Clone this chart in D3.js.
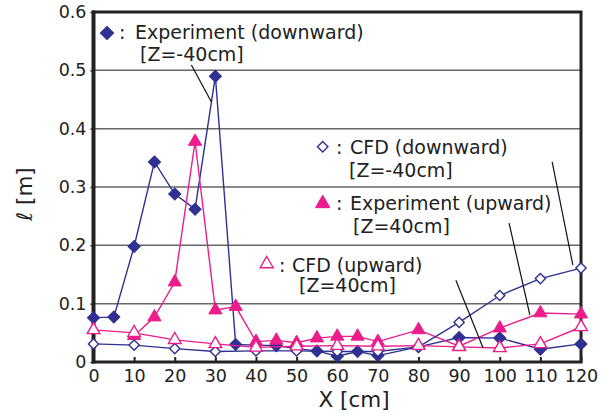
<!DOCTYPE html>
<html>
<head>
<meta charset="utf-8">
<script src="https://cdn.jsdelivr.net/npm/d3@7"></script>
<style>
  body { margin: 0; background: #fff; }
  svg text { font-family: "DejaVu Sans", Verdana, sans-serif; fill: #222; }
</style>
</head>
<body>
<div id="chart"></div>
<script>
// experiment positions (cm)
const xExpDown = [0, 5, 10, 15, 20, 25, 30, 35, 40, 45, 50, 55, 60, 65, 70, 80, 90, 100, 110, 120];
const expDown = [0.076, 0.077, 0.198, 0.343, 0.288, 0.262, 0.490, 0.030, 0.029, 0.028, 0.023, 0.019, 0.010, 0.018, 0.011, 0.026, 0.042, 0.041, 0.022, 0.031];

const xExpUp = [10, 15, 20, 25, 30, 35, 40, 45, 50, 55, 60, 65, 70, 80, 90, 100, 110, 120];
const expUp = [0.045, 0.077, 0.137, 0.378, 0.089, 0.095, 0.035, 0.037, 0.033, 0.041, 0.044, 0.044, 0.035, 0.055, 0.027, 0.058, 0.084, 0.082];

// CFD positions (cm)
const xCfd = [0, 10, 20, 30, 40, 50, 60, 70, 80, 90, 100, 110, 120];
const cfdDown = [0.031, 0.029, 0.023, 0.018, 0.019, 0.019, 0.018, 0.018, 0.026, 0.068, 0.114, 0.143, 0.161];
const cfdUp = [0.055, 0.050, 0.038, 0.031, 0.025, 0.027, 0.028, 0.027, 0.028, 0.026, 0.024, 0.031, 0.060];

const xTicks = [0, 10, 20, 30, 40, 50, 60, 70, 80, 90, 100, 110, 120];
const yTicks = [0, 0.1, 0.2, 0.3, 0.4, 0.5, 0.6];

const navy = "#2e3192";
const pink = "#ec1c8c";

const W = 602, H = 414;
const x = d3.scaleLinear().domain([0, 120]).range([93.5, 581]);
const y = d3.scaleLinear().domain([0, 0.6]).range([362, 12]);

const svg = d3.select("#chart").append("svg").attr("width", W).attr("height", H);

// grid
svg.append("g")
  .selectAll("line")
  .data(yTicks.slice(1, -1))
  .join("line")
  .attr("x1", x(0)).attr("x2", x(120))
  .attr("y1", d => y(d)).attr("y2", d => y(d))
  .attr("stroke", "#666").attr("stroke-width", 1.5);

// axes
const xAxis = svg.append("g")
  .attr("transform", `translate(0,${y(0)})`)
  .call(d3.axisBottom(x).tickValues(xTicks).tickSize(-5).tickPadding(8).tickFormat(d3.format("d")));
xAxis.select(".domain").remove();
xAxis.selectAll("line").attr("stroke", "#222").attr("stroke-width", 2);
xAxis.selectAll("text").attr("font-size", "17.5px").style("font-family", "DejaVu Sans");

const yAxis = svg.append("g")
  .attr("transform", `translate(${x(0)},0)`)
  .call(d3.axisLeft(y).tickValues(yTicks).tickSize(3).tickPadding(4)
    .tickFormat(d => d === 0 ? "0" : d3.format(".1f")(d)));
yAxis.select(".domain").remove();
yAxis.selectAll("line").attr("stroke", "#222").attr("stroke-width", 1.5);
yAxis.selectAll("text").attr("font-size", "17.5px").style("font-family", "DejaVu Sans");

// frame
svg.append("rect")
  .attr("x", x(0)).attr("y", y(0.6))
  .attr("width", x(120) - x(0)).attr("height", y(0) - y(0.6))
  .attr("fill", "none").attr("stroke", "#222").attr("stroke-width", 3);
svg.append("line")
  .attr("x1", x(0)).attr("x2", x(0)).attr("y1", y(0.6) - 1.5).attr("y2", y(0) + 1.5)
  .attr("stroke", "#222").attr("stroke-width", 4);

// axis titles
svg.append("text")
  .attr("x", 354).attr("y", 407)
  .attr("text-anchor", "middle").attr("font-size", "21.5px")
  .text("X [cm]");
const yl = svg.append("text")
  .attr("transform", "translate(32,194) rotate(-90)")
  .attr("text-anchor", "middle").attr("font-size", "21.5px");
yl.append("tspan").attr("font-style", "italic").text("ℓ");
yl.append("tspan").text(" [m]");

// diamonds are squares turned by 45 degrees
const series = [
  { xs: xExpDown, ys: expDown, color: navy, shape: d3.symbolSquare, rot: 45, size: 74, fill: true },
  { xs: xExpUp, ys: expUp, color: pink, shape: d3.symbolTriangle, rot: 0, size: 75, fill: true },
  { xs: xCfd, ys: cfdDown, color: navy, shape: d3.symbolSquare, rot: 45, size: 52, fill: false },
  { xs: xCfd, ys: cfdUp, color: pink, shape: d3.symbolTriangle, rot: 0, size: 70, fill: false }
];

const line = d3.line().x(d => x(d[0])).y(d => y(d[1]));

series.forEach(s => {
  const pts = s.xs.map((v, i) => [v, s.ys[i]]);
  const g = svg.append("g");
  g.append("path")
    .attr("d", line(pts))
    .attr("fill", "none")
    .attr("stroke", s.color)
    .attr("stroke-width", 1.4);
  g.selectAll("path.m")
    .data(pts)
    .join("path")
    .attr("class", "m")
    .attr("transform", d => `translate(${x(d[0])},${y(d[1])}) rotate(${s.rot})`)
    .attr("d", d3.symbol().type(s.shape).size(s.size))
    .attr("fill", s.fill ? s.color : "#fff")
    .attr("stroke", s.color)
    .attr("stroke-width", s.fill ? 1 : 1.4);
});

// legend labels and leader lines
const notes = [
  { s: 0, mx: 107, my: 33, cx: 119, tx: 135, ty: 38.5, zx: 140, zy: 61, text: "Experiment (downward)", z: "[Z=-40cm]",
    lx1: 24.1, ly1: 0.509, lx2: 29.0, ly2: 0.446 },
  { s: 2, mx: 322.7, my: 146.7, cx: 336, tx: 350, ty: 154, zx: 349, zy: 177, text: "CFD (downward)", z: "[Z=-40cm]",
    lx1: 112.9, ly1: 0.343, lx2: 118.0, ly2: 0.166 },
  { s: 1, mx: 322.7, my: 203.5, cx: 336, tx: 350, ty: 210, zx: 353, zy: 233, text: "Experiment (upward)", z: "[Z=40cm]",
    lx1: 102.3, ly1: 0.238, lx2: 107.4, ly2: 0.081 },
  { s: 3, mx: 266.7, my: 264, cx: 279, tx: 292, ty: 271.5, zx: 299, zy: 292, text: "CFD (upward)", z: "[Z=40cm]",
    lx1: 89.2, ly1: 0.140, lx2: 95.9, ly2: 0.024 }
];

notes.forEach(n => {
  const s = series[n.s];
  svg.append("path")
    .attr("transform", `translate(${n.mx},${n.my}) rotate(${s.rot})`)
    .attr("d", d3.symbol().type(s.shape).size(s.fill ? s.size * 1.2 : s.size * 1.05))
    .attr("fill", s.fill ? s.color : "#fff")
    .attr("stroke", s.color)
    .attr("stroke-width", s.fill ? 1 : 1.4);
  svg.append("text").attr("x", n.cx).attr("y", n.ty).attr("font-size", "19px").text(":");
  svg.append("text").attr("x", n.tx).attr("y", n.ty).attr("font-size", "19px").text(n.text);
  svg.append("text").attr("x", n.zx).attr("y", n.zy).attr("font-size", "19px").text(n.z);
  svg.append("line")
    .attr("x1", x(n.lx1)).attr("y1", y(n.ly1))
    .attr("x2", x(n.lx2)).attr("y2", y(n.ly2))
    .attr("stroke", "#111").attr("stroke-width", 1.2);
});
</script>
</body>
</html>
